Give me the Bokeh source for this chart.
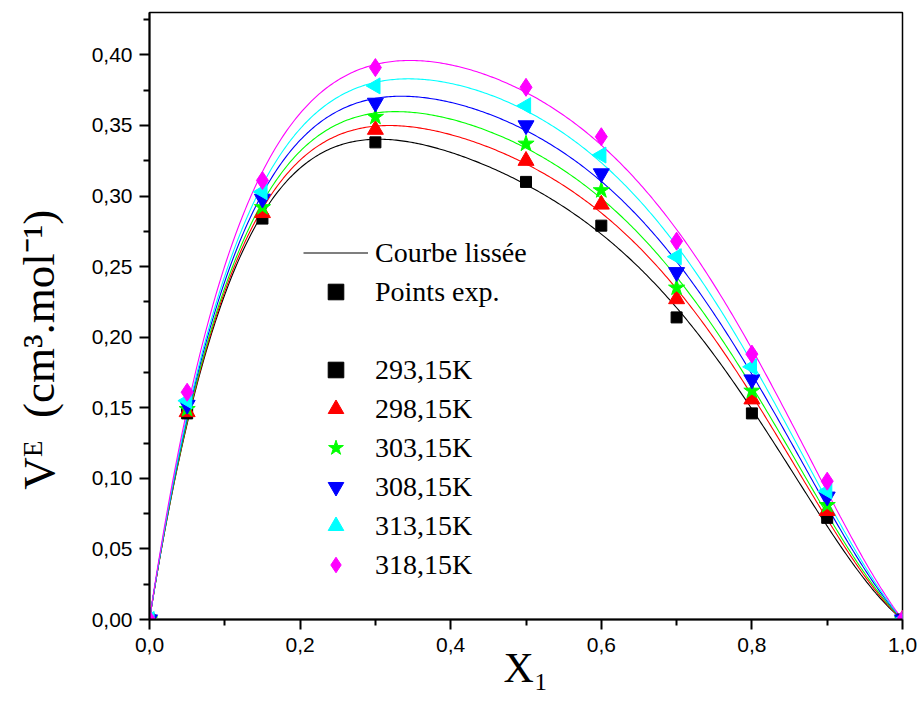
import numpy as np
from bokeh.plotting import figure
from bokeh.models import (Legend, LegendItem, FixedTicker, CustomJSTickFormatter,
                          Range1d)
from bokeh.embed import file_html
from bokeh.resources import INLINE

# Mole fraction of component 1
x1 = [0.0, 0.05, 0.15, 0.30, 0.50, 0.60, 0.70, 0.80, 0.90, 1.0]

# Excess molar volume V^E (cm3/mol) at each temperature
v_293 = [0.0, 0.146, 0.284, 0.338, 0.310, 0.279, 0.214, 0.146, 0.072, 0.0]
v_298 = [0.0, 0.147, 0.288, 0.347, 0.325, 0.294, 0.227, 0.156, 0.077, 0.0]
v_303 = [0.0, 0.149, 0.292, 0.356, 0.337, 0.304, 0.235, 0.162, 0.081, 0.0]
v_308 = [0.0, 0.152, 0.298, 0.366, 0.350, 0.316, 0.246, 0.170, 0.087, 0.0]
v_313 = [0.0, 0.155, 0.303, 0.378, 0.364, 0.329, 0.257, 0.179, 0.091, 0.0]
v_318 = [0.0, 0.161, 0.311, 0.391, 0.377, 0.342, 0.268, 0.188, 0.098, 0.0]

temperatures = ["293,15K", "298,15K", "303,15K", "308,15K", "313,15K", "318,15K"]
series = [v_293, v_298, v_303, v_308, v_313, v_318]

y_ticks = [0.0, 0.05, 0.10, 0.15, 0.20, 0.25, 0.30, 0.35, 0.40]
x_ticks = [0.0, 0.2, 0.4, 0.6, 0.8, 1.0]

colors = ["black", "#ff0000", "#00ff00", "#0000ff", "#00ffff", "#ff00ff"]
markers = ["square", "triangle", "star", "inverted_triangle", "triangle", "diamond"]
angles = [0.0, 0.0, 0.0, 0.0, np.pi / 2, 0.0]
sizes = [11, 16, 17, 16, 16, 18]


def redlich_kister(x, v, order=4):
    """Least-squares Redlich-Kister coefficients for V^E = x(1-x) sum A_k (2x-1)^k."""
    x = np.asarray(x, dtype=float)
    v = np.asarray(v, dtype=float)
    basis = np.column_stack([x * (1 - x) * (2 * x - 1) ** k for k in range(order)])
    coef, *_ = np.linalg.lstsq(basis, v, rcond=None)
    return coef


def rk_eval(coef, x):
    return x * (1 - x) * sum(a * (2 * x - 1) ** k for k, a in enumerate(coef))


p = figure(width=920, height=702,
           x_range=Range1d(0.0, 1.0), y_range=Range1d(0.0, 0.43),
           output_backend="svg", toolbar_location=None,
           min_border_left=149, min_border_right=18,
           min_border_top=12, min_border_bottom=83)

p.background_fill_color = "white"
p.border_fill_color = "white"
p.outline_line_color = "black"
p.outline_line_width = 1.5
p.xgrid.visible = False
p.ygrid.visible = False

# Smoothed curves
xs = np.linspace(0.0, 1.0, 401)
line_renderers = []
for v, c in zip(series, colors):
    coef = redlich_kister(x1, v)
    r = p.line(xs, rk_eval(coef, xs), line_color=c, line_width=1.1)
    line_renderers.append(r)

# Experimental points
point_renderers = []
for v, c, m, a, s in zip(series, colors, markers, angles, sizes):
    r = p.scatter(x1, v, marker=m, angle=a, size=s,
                  fill_color=c, line_color=c)
    point_renderers.append(r)

# invisible entry used as a blank row in the legend
blank = p.scatter([], [], marker="square", size=1, fill_alpha=0, line_alpha=0)

items = [LegendItem(label="Courbe lissée", renderers=[line_renderers[0]]),
         LegendItem(label="Points exp.", renderers=[point_renderers[0]]),
         LegendItem(label=" ", renderers=[blank])]
items += [LegendItem(label=t, renderers=[r]) for t, r in zip(temperatures, point_renderers)]

legend = Legend(items=items, location=(154, 35),
                label_text_font="Liberation Serif", label_text_font_size="28px",
                label_text_color="black",
                glyph_width=65, glyph_height=39, label_height=39, label_standoff=7,
                spacing=0, padding=0, margin=0,
                border_line_alpha=0, background_fill_alpha=0)
p.add_layout(legend)

# Axes
for ax in (p.xaxis[0], p.yaxis[0]):
    ax.axis_line_width = 2
    ax.axis_line_color = "black"
    ax.major_tick_line_width = 2
    ax.minor_tick_line_width = 2
    ax.major_tick_out = 10
    ax.major_tick_in = 0
    ax.minor_tick_out = 6
    ax.minor_tick_in = 0
    ax.major_label_text_font = "Liberation Sans"
    ax.major_label_text_font_size = "21px"
    ax.major_label_text_color = "black"
    ax.axis_label_text_font = "Liberation Serif"
    ax.axis_label_text_font_style = "normal"
    ax.axis_label_text_color = "black"

p.xaxis.ticker = FixedTicker(ticks=x_ticks, minor_ticks=[0.1, 0.3, 0.5, 0.7, 0.9])
p.yaxis.ticker = FixedTicker(ticks=y_ticks,
                             minor_ticks=[0.025, 0.075, 0.125, 0.175, 0.225,
                                          0.275, 0.325, 0.375, 0.425])
p.xaxis.formatter = CustomJSTickFormatter(code="return tick.toFixed(1).replace('.', ',');")
p.yaxis.formatter = CustomJSTickFormatter(code="return tick.toFixed(2).replace('.', ',');")
p.xaxis.major_label_standoff = 8
p.yaxis.major_label_standoff = 7

p.xaxis.axis_label = "X\u2081"
p.xaxis.axis_label_text_font_size = "42px"
p.xaxis.axis_label_standoff = -10

# trailing no-break spaces push the rotated title a little lower along the axis
p.yaxis.axis_label = "V\u1d31\u00a0 (cm\u00b3.mol\u207b\u00b9)" + "\u00a0" * 6
p.yaxis.axis_label_text_font_size = "45px"
p.yaxis.axis_label_standoff = 25

open("out.html", "w").write(file_html(p, INLINE))
